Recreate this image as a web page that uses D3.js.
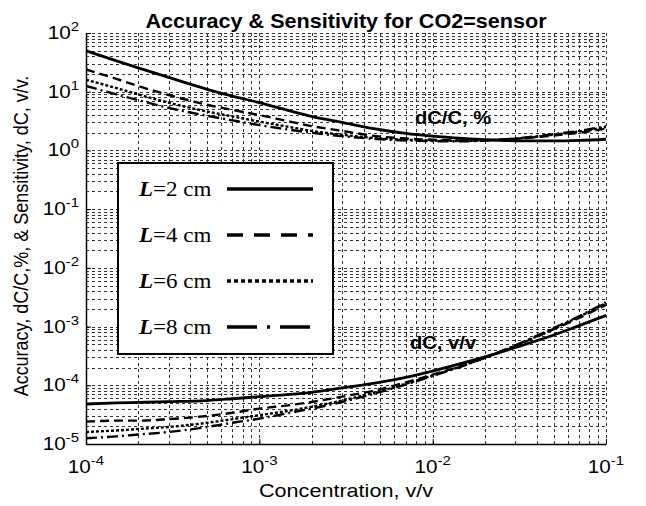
<!DOCTYPE html>
<html>
<head>
<meta charset="utf-8">
<script src="https://cdn.jsdelivr.net/npm/d3@7"></script>
<style>
  body { margin: 0; background: #fff; }
  svg { display: block; }
  .grid line { stroke: #333; stroke-width: 1; stroke-dasharray: 3,3; shape-rendering: crispEdges; }
  .tick-label { font-family: "Liberation Sans", Arial, sans-serif; font-size: 18px; fill: #000; }
  .sup { font-size: 13px; }
</style>
</head>
<body>
<div id="chart"></div>
<script>
var width = 646,
    height = 506;

// concentration, v/v
var conc = [1e-4, 1.5e-4, 2e-4, 3e-4, 5e-4, 7e-4, 1e-3, 1.5e-3, 2e-3, 3e-3,
            5e-3, 7e-3, 1e-2, 1.5e-2, 2e-2, 3e-2, 5e-2, 7e-2, 1e-1];

// accuracy dC/C, %
var pctL2 = [50, 33.5, 25.5, 17.5, 11, 8.4, 6.5, 4.7, 3.8, 3.0, 2.25, 1.95, 1.75, 1.6, 1.52, 1.46, 1.45, 1.48, 1.55];
var pctL4 = [24, 16.5, 12.5, 8.8, 6.0, 4.9, 4.0, 3.1, 2.6, 2.15, 1.72, 1.6, 1.52, 1.48, 1.5, 1.58, 1.8, 2.0, 2.35];
var pctL6 = [16, 11.5, 9.0, 6.5, 4.6, 3.8, 3.1, 2.5, 2.15, 1.85, 1.6, 1.52, 1.47, 1.45, 1.48, 1.58, 1.85, 2.1, 2.5];
var pctL8 = [12.5, 9.0, 7.2, 5.3, 3.9, 3.25, 2.7, 2.25, 2.0, 1.75, 1.55, 1.48, 1.44, 1.43, 1.47, 1.6, 1.9, 2.15, 2.6];

// sensitivity dC, v/v
var dcL2 = [4.8e-5, 5.0e-5, 5.1e-5, 5.25e-5, 5.5e-5, 5.9e-5, 6.4e-5, 7.0e-5, 7.6e-5, 9.0e-5,
            1.13e-4, 1.37e-4, 1.75e-4, 2.4e-4, 3.05e-4, 4.4e-4, 7.2e-4, 1.04e-3, 1.55e-3];
var dcL4 = [2.4e-5, 2.5e-5, 2.5e-5, 2.65e-5, 3.0e-5, 3.4e-5, 4.0e-5, 4.6e-5, 5.2e-5, 6.4e-5,
            8.6e-5, 1.12e-4, 1.52e-4, 2.2e-4, 3.0e-4, 4.7e-4, 9.0e-4, 1.4e-3, 2.35e-3];
var dcL6 = [1.6e-5, 1.7e-5, 1.8e-5, 1.95e-5, 2.3e-5, 2.65e-5, 3.1e-5, 3.7e-5, 4.3e-5, 5.5e-5,
            8.0e-5, 1.06e-4, 1.47e-4, 2.17e-4, 2.95e-4, 4.7e-4, 9.2e-4, 1.47e-3, 2.5e-3];
var dcL8 = [1.25e-5, 1.35e-5, 1.45e-5, 1.6e-5, 1.95e-5, 2.3e-5, 2.7e-5, 3.4e-5, 4.0e-5, 5.2e-5,
            7.7e-5, 1.03e-4, 1.44e-4, 2.14e-4, 2.94e-4, 4.8e-4, 9.5e-4, 1.5e-3, 2.6e-3];

var legendLabels = ["2", "4", "6", "8"];
var xTickExp = [-4, -3, -2, -1];
var yTickExp = [2, 1, 0, -1, -2, -3, -4, -5];

var series = [
  {pct: pctL2, dc: dcL2, dash: null, w: 2.8, legDash: null},
  {pct: pctL4, dc: dcL4, dash: "9,5", w: 2.4, legDash: "16,11"},
  {pct: pctL6, dc: dcL6, dash: "3,2", w: 2.4, legDash: "4,3"},
  {pct: pctL8, dc: dcL8, dash: "11,4,2,4", w: 2.4, legDash: "30,10,3,10"}
];

var plot = {left: 86, right: 606, top: 33, bottom: 444};
var stretch = 1.15; // glyphs in the source picture are a bit wider than tall

var svg = d3.select("#chart")
    .append("svg")
    .attr("width", width)
    .attr("height", height);

var x = d3.scaleLog().domain([1e-4, 1e-1]).range([plot.left, plot.right]);
var y = d3.scaleLog().domain([1e-5, 1e2]).range([plot.bottom, plot.top]);

// grid, major and minor, all dashed
var xGrid = [], yGrid = [];
for (var e = -4; e < -1; e++) for (var k = 1; k < 10; k++) xGrid.push(k * Math.pow(10, e));
xGrid.push(1e-1);
for (var e2 = -5; e2 < 2; e2++) for (var k2 = 1; k2 < 10; k2++) yGrid.push(k2 * Math.pow(10, e2));
yGrid.push(1e2);

var grid = svg.append("g").attr("class", "grid");
grid.selectAll(".gx").data(xGrid).enter().append("line")
    .attr("x1", function(d) { return Math.round(x(d)) + 0.5; })
    .attr("x2", function(d) { return Math.round(x(d)) + 0.5; })
    .attr("y1", plot.top)
    .attr("y2", plot.bottom);
grid.selectAll(".gy").data(yGrid).enter().append("line")
    .attr("y1", function(d) { return Math.round(y(d)) + 0.5; })
    .attr("y2", function(d) { return Math.round(y(d)) + 0.5; })
    .attr("x1", plot.left)
    .attr("x2", plot.right);

// axes (left + bottom), ticks inward
svg.append("g")
    .attr("transform", "translate(0," + plot.bottom + ")")
    .call(d3.axisBottom(x).tickValues(xTickExp.map(function(p) { return Math.pow(10, p); }))
      .tickFormat("").tickSize(-5).tickSizeOuter(0))
    .call(function(g) { g.select(".domain").attr("stroke-width", 1.5); });
svg.append("g")
    .attr("transform", "translate(" + plot.left + ",0)")
    .call(d3.axisLeft(y).tickValues(yTickExp.map(function(p) { return Math.pow(10, p); }))
      .tickFormat("").tickSize(-5).tickSizeOuter(0))
    .call(function(g) { g.select(".domain").attr("stroke-width", 1.5); });

// tick labels with superscripts
var xl = svg.selectAll(".xlab").data(xTickExp).enter().append("text")
    .attr("class", "tick-label")
    .attr("transform", function(d) {
      return "translate(" + x(Math.pow(10, d)) + ",473) scale(" + stretch + ",1)";
    })
    .attr("text-anchor", "middle");
xl.append("tspan").text("10");
xl.append("tspan").attr("class", "sup").attr("dy", -8).text(function(d) { return d; });

var yl = svg.selectAll(".ylab").data(yTickExp).enter().append("text")
    .attr("class", "tick-label")
    .attr("transform", function(d) {
      return "translate(79," + (y(Math.pow(10, d)) + 6) + ") scale(" + stretch + ",1)";
    })
    .attr("text-anchor", "end");
yl.append("tspan").text("10");
yl.append("tspan").attr("class", "sup").attr("dy", -8).text(function(d) { return d; });

// curves
svg.append("clipPath").attr("id", "clip").append("rect")
    .attr("x", plot.left).attr("y", plot.top)
    .attr("width", plot.right - plot.left).attr("height", plot.bottom - plot.top);

var line = d3.line()
    .x(function(d) { return x(d[0]); })
    .y(function(d) { return y(d[1]); })
    .curve(d3.curveMonotoneX);

var curves = svg.append("g").attr("clip-path", "url(#clip)");
series.forEach(function(s) {
  ["pct", "dc"].forEach(function(key) {
    curves.append("path")
        .datum(conc.map(function(c, i) { return [c, s[key][i]]; }))
        .attr("fill", "none")
        .attr("stroke", "#000")
        .attr("stroke-width", s.w)
        .attr("stroke-dasharray", s.dash)
        .attr("d", line);
  });
});

// curve group labels
function sansText(tx, ty, size, bold, txt, sx) {
  return svg.append("text")
      .attr("transform", "translate(" + tx + "," + ty + ") scale(" + sx + ",1)")
      .style("font-family", "Liberation Sans, Arial, sans-serif")
      .style("font-size", size + "px")
      .style("font-weight", bold ? "bold" : "normal")
      .text(txt);
}
sansText(415, 124, 18, true, "dC/C, %", 1.12);
sansText(410, 349, 18, true, "dC, v/v", 1.12);

// legend
var legend = svg.append("g");
legend.append("rect")
    .attr("x", 118).attr("y", 163)
    .attr("width", 215).attr("height", 191)
    .attr("fill", "#fff").attr("stroke", "#000").attr("stroke-width", 2);

var items = legend.selectAll(".item").data(series).enter().append("g")
    .attr("transform", function(d, i) { return "translate(0," + (189 + i * 46) + ")"; });
var lt = items.append("text")
    .attr("transform", "translate(139,7) scale(1.15,1)")
    .style("font-family", "Liberation Serif, Times New Roman, serif")
    .style("font-size", "20px");
lt.append("tspan").style("font-weight", "bold").style("font-style", "italic").text("L");
lt.append("tspan").text(function(d, i) { return "=" + legendLabels[i] + " cm"; });
items.append("line")
    .attr("x1", 227).attr("x2", 313)
    .attr("y1", 0).attr("y2", 0)
    .attr("stroke", "#000").attr("stroke-width", 3.5)
    .attr("stroke-dasharray", function(d) { return d.legDash; });

// titles
sansText((plot.left + plot.right) / 2, 28, 20, true, "Accuracy & Sensitivity for CO2=sensor", 1.08)
    .attr("text-anchor", "middle");
sansText((plot.left + plot.right) / 2, 497, 18, false, "Concentration, v/v", 1.2)
    .attr("text-anchor", "middle");
svg.append("text")
    .attr("transform", "translate(28,236) scale(" + stretch + ",1) rotate(-90)")
    .attr("text-anchor", "middle")
    .style("font-family", "Liberation Sans, Arial, sans-serif")
    .style("font-size", "18px")
    .text("Accuracy, dC/C,%, & Sensitivity, dC, v/v.");
</script>
</body>
</html>
